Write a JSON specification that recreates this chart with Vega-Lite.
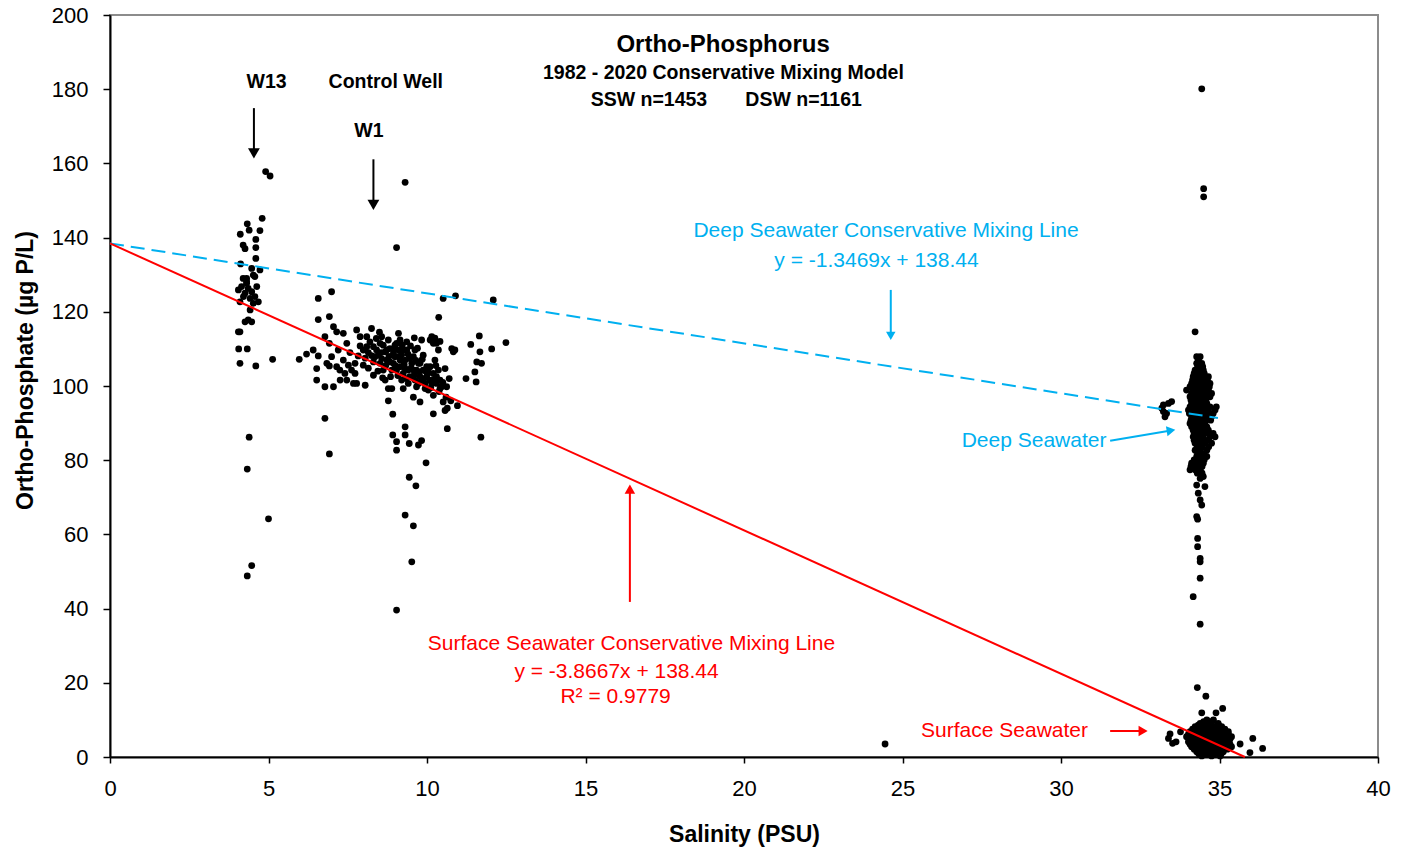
{
  "$schema": "https://vega.github.io/schema/vega-lite/v6.json",
  "width": 1268,
  "height": 742,
  "autosize": {"type": "none"},
  "padding": {"left": 110, "top": 15, "right": 31, "bottom": 95},
  "background": "white",
  "config": {
    "view": {"stroke": "#8c8c8c", "strokeWidth": 2},
    "font": "Liberation Sans",
    "axis": {"grid": false, "labelFlush": false, "labelFont": "Liberation Sans", "titleFont": "Liberation Sans", "labelColor": "black", "titleColor": "black", "domainColor": "black", "tickColor": "black", "domainWidth": 2, "tickWidth": 1.5, "labelFontSize": 22, "titleFontSize": 23, "titleFontWeight": "bold", "labelFontWeight": "normal"}
  },
  "datasets": {
    "points": [
      {"x":4.91,"y":157.8},{"x":5.05,"y":156.6},{"x":4.8,"y":145.2},{"x":4.33,"y":143.7},{"x":4.11,"y":140.9},{"x":4.39,"y":142},{"x":4.73,"y":141.9},{"x":4.6,"y":139.5},{"x":4.2,"y":138},{"x":4.26,"y":137},{"x":4.6,"y":137.3},{"x":4.6,"y":134.4},{"x":4.12,"y":132.9},{"x":4.47,"y":131.7},{"x":4.73,"y":131.3},{"x":4.57,"y":129.5},{"x":4.2,"y":129},{"x":4.31,"y":128.1},{"x":4.42,"y":120.5},{"x":4.36,"y":117.8},{"x":4.26,"y":117.3},{"x":4.47,"y":117.3},{"x":4.05,"y":114.6},{"x":4.1,"y":114.6},{"x":4.06,"y":110},{"x":4.33,"y":110},{"x":4.1,"y":106.1},{"x":4.6,"y":105.4},{"x":5.13,"y":107.2},{"x":4.39,"y":86.2},{"x":4.33,"y":77.6},{"x":5.0,"y":64.2},{"x":4.47,"y":51.6},{"x":4.33,"y":48.8},
      {"x":4.05,"y":125.9},{"x":4.15,"y":126.8},{"x":4.26,"y":125.0},{"x":4.36,"y":126.3},{"x":4.47,"y":125.4},{"x":4.57,"y":124.1},{"x":4.68,"y":122.7},{"x":4.21,"y":124.1},{"x":4.42,"y":123.6},{"x":4.52,"y":122.3},{"x":4.31,"y":127.7},{"x":4.63,"y":126.8},{"x":4.1,"y":122.7},{"x":4.52,"y":129.9},{"x":4.31,"y":129.0},
      {"x":9.31,"y":154.9},{"x":9.04,"y":137.3},{"x":6.99,"y":125.4},{"x":6.57,"y":123.6},{"x":10.51,"y":123.6},{"x":10.9,"y":124.3},{"x":12.09,"y":123.2},{"x":6.57,"y":117.9},{"x":6.92,"y":118.7},{"x":10.37,"y":118.5},{"x":11.65,"y":113.5},{"x":11.38,"y":111.2},{"x":12.49,"y":111.7},{"x":12.04,"y":110},
      {"x":6.78,"y":91.3},{"x":6.92,"y":81.7},{"x":8.92,"y":92.4},{"x":8.78,"y":96},{"x":9.31,"y":89},{"x":8.92,"y":86.8},{"x":9.31,"y":86.8},{"x":9.04,"y":85},{"x":9.04,"y":82.7},{"x":9.44,"y":84.5},{"x":9.73,"y":84.1},{"x":9.83,"y":85.3},{"x":9.97,"y":79.3},{"x":10.64,"y":88.5},{"x":11.7,"y":86.2},{"x":9.44,"y":75.4},{"x":9.65,"y":73.1},{"x":9.31,"y":65.2},{"x":9.57,"y":62.3},{"x":9.52,"y":52.6},{"x":9.04,"y":39.6},
      {"x":5.97,"y":107.2},{"x":6.2,"y":108.6},{"x":6.41,"y":109.7},{"x":6.52,"y":104.7},{"x":6.52,"y":101.6},{"x":6.57,"y":108.1},{"x":6.78,"y":113.3},{"x":6.78,"y":99.8},{"x":6.92,"y":111.5},{"x":6.92,"y":105.4},{"x":7.05,"y":99.8},{"x":7.05,"y":116.0},{"x":7.15,"y":114.6},{"x":7.2,"y":109.7},{"x":7.25,"y":104.3},{"x":7.36,"y":114.2},{"x":7.36,"y":107.0},{"x":7.47,"y":111.5},{"x":7.52,"y":105.6},{"x":7.57,"y":109.0},{"x":7.68,"y":100.7},{"x":7.73,"y":103.4},{"x":7.78,"y":115.1},{"x":7.83,"y":108.1},{"x":7.89,"y":110.8},{"x":7.99,"y":105.6},{"x":8.05,"y":100.2},{"x":8.1,"y":113.3},{"x":8.15,"y":109.0},{"x":8.25,"y":115.5},{"x":8.31,"y":106.5},{"x":8.31,"y":102.9},{"x":8.41,"y":109.7},{"x":8.52,"y":111.5},{"x":8.57,"y":107.4},{"x":8.62,"y":104.3},{"x":8.68,"y":101.6},{"x":8.73,"y":109.7},{"x":8.78,"y":112.4},{"x":8.83,"y":106.5},{"x":8.89,"y":99.3},{"x":8.94,"y":108.8},{"x":8.99,"y":111.0},{"x":9.04,"y":104.3},{"x":9.1,"y":114.2},{"x":9.15,"y":107.0},{"x":9.2,"y":101.6},{"x":9.25,"y":109.7},{"x":9.31,"y":104.7},{"x":9.36,"y":111.9},{"x":9.41,"y":100.7},{"x":9.46,"y":107.4},{"x":9.57,"y":104.3},{"x":9.62,"y":109.7},{"x":9.67,"y":99.8},{"x":9.73,"y":106.1},{"x":9.78,"y":102.5},{"x":9.83,"y":112.4},{"x":9.88,"y":108.3},{"x":9.94,"y":99.3},{"x":9.99,"y":105.2},{"x":10.09,"y":101.6},{"x":10.15,"y":113.3},{"x":10.2,"y":97.5},{"x":10.25,"y":107.0},{"x":10.3,"y":102.5},{"x":10.36,"y":109.7},{"x":10.41,"y":99.3},{"x":10.51,"y":95.7},{"x":10.57,"y":104.7},{"x":10.62,"y":99.8},{"x":10.64,"y":94.0},{"x":10.78,"y":110.1},{"x":10.88,"y":109.7},{"x":10.96,"y":94.7},{"x":10.2,"y":92.5},{"x":10.57,"y":93.4},{"x":9.78,"y":95.7},{"x":9.57,"y":97.0},{"x":9.25,"y":99.3},{"x":8.78,"y":99.3},{"x":7.78,"y":100.7},
      {"x":11.23,"y":102.0},{"x":11.55,"y":101.1},{"x":11.51,"y":103.8},{"x":11.57,"y":106.5},{"x":11.72,"y":106.1},{"x":11.67,"y":109.2},{"x":10.83,"y":109.2},{"x":10.25,"y":112.9},{"x":10.1,"y":112.4},{"x":10.41,"y":112.0},
      {"x":7.99,"y":109.7},{"x":8.1,"y":110.6},{"x":8.2,"y":111.9},{"x":8.31,"y":110.6},{"x":8.36,"y":107.9},{"x":8.47,"y":108.4},{"x":8.52,"y":106.1},{"x":8.62,"y":111.0},{"x":8.68,"y":109.2},{"x":8.73,"y":107.0},{"x":8.83,"y":110.1},{"x":8.89,"y":104.3},{"x":8.94,"y":106.1},{"x":8.99,"y":107.9},{"x":9.04,"y":111.5},{"x":9.1,"y":109.7},{"x":9.15,"y":105.2},{"x":9.2,"y":108.4},{"x":9.25,"y":103.4},{"x":9.31,"y":107.0},{"x":9.36,"y":109.7},{"x":9.41,"y":104.3},{"x":9.46,"y":102.5},{"x":9.52,"y":106.1},{"x":9.57,"y":107.9},{"x":9.62,"y":101.6},{"x":9.67,"y":104.3},{"x":9.73,"y":100.7},{"x":9.78,"y":106.1},{"x":9.83,"y":101.6},{"x":9.88,"y":104.3},{"x":9.94,"y":100.7},{"x":9.99,"y":102.5},{"x":10.04,"y":98.9},{"x":10.1,"y":105.2},{"x":10.15,"y":100.7},{"x":10.2,"y":103.4},{"x":10.3,"y":100.7},{"x":10.36,"y":104.3},{"x":10.41,"y":101.6},{"x":10.46,"y":99.8},{"x":10.2,"y":111.5},{"x":10.3,"y":111.5},{"x":9.15,"y":112.4},{"x":8.57,"y":113.3},{"x":7.89,"y":113.3},{"x":7.73,"y":106.1},{"x":7.62,"y":104.3},{"x":7.41,"y":103.4},{"x":7.15,"y":105.2},{"x":6.99,"y":107.9},{"x":6.84,"y":106.1},{"x":7.26,"y":101.6},{"x":7.47,"y":101.6},
      {"x":8.05,"y":107.5},{"x":8.15,"y":104.8},{"x":8.25,"y":108.2},{"x":8.4,"y":112.8},{"x":8.45,"y":104.0},{"x":8.55,"y":109.0},{"x":8.6,"y":102.2},{"x":8.7,"y":105.5},{"x":8.8,"y":108.0},{"x":8.85,"y":102.5},{"x":8.95,"y":110.0},{"x":9.0,"y":105.5},{"x":9.08,"y":102.8},{"x":9.12,"y":108.0},{"x":9.22,"y":111.0},{"x":9.28,"y":105.8},{"x":9.35,"y":102.0},{"x":9.4,"y":108.6},{"x":9.48,"y":110.8},{"x":9.5,"y":104.9},{"x":9.6,"y":103.0},{"x":9.65,"y":106.9},{"x":9.7,"y":110.2},{"x":9.76,"y":103.8},{"x":9.85,"y":107.2},{"x":9.9,"y":102.0},{"x":9.96,"y":104.0},{"x":10.05,"y":103.6},{"x":10.12,"y":99.5},{"x":10.22,"y":101.8},{"x":10.28,"y":105.5},{"x":10.38,"y":98.5},{"x":10.5,"y":101.0},{"x":10.6,"y":97.0},{"x":10.7,"y":102.0},{"x":10.75,"y":96.0},{"x":8.5,"y":114.5},{"x":9.6,"y":113.0},
      {"x":34.44,"y":180.1},{"x":34.5,"y":153.2},{"x":34.5,"y":151.0},{"x":34.23,"y":114.6},
      {"x":34.28,"y":107.9},{"x":34.39,"y":107.9},{"x":34.28,"y":106.1},{"x":34.44,"y":106.1},{"x":34.23,"y":104.3},{"x":34.39,"y":104.3},{"x":34.49,"y":104.3},
      {"x":34.17,"y":102.5},{"x":34.33,"y":102.5},{"x":34.49,"y":102.5},{"x":34.65,"y":102.5},
      {"x":34.12,"y":100.7},{"x":34.28,"y":100.7},{"x":34.44,"y":100.7},{"x":34.6,"y":100.7},{"x":34.7,"y":100.7},
      {"x":33.96,"y":98.9},{"x":34.17,"y":98.9},{"x":34.33,"y":98.9},{"x":34.49,"y":98.9},{"x":34.65,"y":98.9},
      {"x":34.07,"y":97.1},{"x":34.23,"y":97.1},{"x":34.39,"y":97.1},{"x":34.54,"y":97.1},{"x":34.7,"y":97.1},
      {"x":34.12,"y":95.3},{"x":34.28,"y":95.3},{"x":34.44,"y":95.3},{"x":34.6,"y":95.3},
      {"x":34.02,"y":93.5},{"x":34.17,"y":93.5},{"x":34.33,"y":93.5},{"x":34.49,"y":93.5},{"x":34.65,"y":93.5},{"x":34.86,"y":93.5},
      {"x":34.12,"y":91.7},{"x":34.28,"y":91.7},{"x":34.44,"y":91.7},{"x":34.6,"y":91.7},{"x":34.75,"y":91.7},
      {"x":34.07,"y":89.9},{"x":34.23,"y":89.9},{"x":34.39,"y":89.9},{"x":34.54,"y":89.9},
      {"x":34.17,"y":88.1},{"x":34.33,"y":88.1},{"x":34.49,"y":88.1},{"x":34.65,"y":88.1},
      {"x":34.17,"y":86.3},{"x":34.33,"y":86.3},{"x":34.49,"y":86.3},{"x":34.7,"y":86.3},{"x":34.86,"y":86.3},
      {"x":34.23,"y":84.6},{"x":34.39,"y":84.6},{"x":34.54,"y":84.6},{"x":34.75,"y":84.6},
      {"x":34.23,"y":82.7},{"x":34.39,"y":82.7},{"x":34.6,"y":82.7},
      {"x":34.28,"y":81.0},{"x":34.44,"y":81.0},{"x":34.6,"y":81.0},
      {"x":34.12,"y":79.2},{"x":34.28,"y":79.2},{"x":34.49,"y":79.2},
      {"x":34.07,"y":77.4},{"x":34.23,"y":77.4},{"x":34.39,"y":77.4},
      {"x":34.33,"y":107.0},{"x":34.31,"y":105.2},{"x":34.47,"y":105.2},{"x":34.2,"y":103.4},{"x":34.36,"y":103.4},{"x":34.52,"y":103.4},
      {"x":34.15,"y":101.6},{"x":34.3,"y":101.6},{"x":34.46,"y":101.6},{"x":34.62,"y":101.6},
      {"x":34.07,"y":99.8},{"x":34.2,"y":99.8},{"x":34.36,"y":99.8},{"x":34.52,"y":99.8},{"x":34.68,"y":99.8},
      {"x":34.12,"y":98.0},{"x":34.28,"y":98.0},{"x":34.44,"y":98.0},{"x":34.6,"y":98.0},{"x":34.75,"y":98.0},
      {"x":34.1,"y":96.2},{"x":34.26,"y":96.2},{"x":34.42,"y":96.2},{"x":34.57,"y":96.2},
      {"x":34.07,"y":94.4},{"x":34.2,"y":94.4},{"x":34.36,"y":94.4},{"x":34.52,"y":94.4},{"x":34.7,"y":94.4},{"x":34.9,"y":94.4},
      {"x":34.05,"y":92.6},{"x":34.2,"y":92.6},{"x":34.36,"y":92.6},{"x":34.52,"y":92.6},{"x":34.68,"y":92.6},{"x":34.8,"y":92.6},
      {"x":34.1,"y":90.8},{"x":34.26,"y":90.8},{"x":34.42,"y":90.8},{"x":34.57,"y":90.8},{"x":34.72,"y":90.8},
      {"x":34.12,"y":89.0},{"x":34.28,"y":89.0},{"x":34.44,"y":89.0},{"x":34.6,"y":89.0},
      {"x":34.2,"y":87.2},{"x":34.36,"y":87.2},{"x":34.52,"y":87.2},{"x":34.68,"y":87.2},{"x":34.8,"y":87.2},
      {"x":34.2,"y":85.4},{"x":34.36,"y":85.4},{"x":34.52,"y":85.4},{"x":34.65,"y":85.4},
      {"x":34.3,"y":83.6},{"x":34.46,"y":83.6},{"x":34.66,"y":83.6},
      {"x":34.31,"y":81.8},{"x":34.5,"y":81.8},
      {"x":34.2,"y":80.1},{"x":34.36,"y":80.1},{"x":34.52,"y":80.1},
      {"x":34.1,"y":78.3},{"x":34.3,"y":78.3},{"x":34.45,"y":78.3},
      {"x":34.3,"y":76.5},{"x":34.45,"y":76.5},
      {"x":34.39,"y":75.1},{"x":34.49,"y":75.6},{"x":34.28,"y":73.3},{"x":34.54,"y":72.9},{"x":34.33,"y":71.1},{"x":34.39,"y":69.3},{"x":34.44,"y":67.9},{"x":34.28,"y":64.8},{"x":34.31,"y":64.1},{"x":34.31,"y":58.9},{"x":34.31,"y":56.7},{"x":34.39,"y":53.5},{"x":34.39,"y":52.6},{"x":34.39,"y":48.2},{"x":34.17,"y":43.2},{"x":34.39,"y":35.8},
      {"x":33.23,"y":94.9},{"x":33.39,"y":95.3},{"x":33.49,"y":95.8},{"x":33.23,"y":93.1},{"x":33.28,"y":91.7},{"x":33.18,"y":94.0},{"x":33.33,"y":92.6},
      {"x":34.3,"y":18.7},{"x":34.57,"y":16.4},{"x":34.44,"y":11.9},{"x":34.89,"y":11.9},{"x":35.1,"y":13.1},{"x":33.44,"y":6.2},{"x":33.63,"y":4.1},{"x":33.39,"y":5.0},{"x":33.52,"y":3.7},{"x":33.77,"y":6.8},{"x":35.65,"y":3.5},{"x":36.05,"y":5.0},{"x":36.36,"y":2.3},{"x":35.96,"y":1.2},{"x":24.45,"y":3.5},
      {"x":34.6,"y":9.97},{"x":34.81,"y":9.97},
      {"x":34.39,"y":9.08},{"x":34.7,"y":9.08},{"x":34.96,"y":9.08},
      {"x":34.23,"y":8.18},{"x":34.44,"y":8.18},{"x":34.65,"y":8.18},{"x":34.86,"y":8.18},{"x":35.07,"y":8.18},
      {"x":34.07,"y":6.83},{"x":34.28,"y":6.83},{"x":34.49,"y":6.83},{"x":34.7,"y":6.83},{"x":34.91,"y":6.83},{"x":35.12,"y":6.83},{"x":35.28,"y":6.83},
      {"x":33.96,"y":5.49},{"x":34.17,"y":5.49},{"x":34.39,"y":5.49},{"x":34.6,"y":5.49},{"x":34.81,"y":5.49},{"x":35.02,"y":5.49},{"x":35.23,"y":5.49},{"x":35.38,"y":5.49},
      {"x":34.02,"y":4.14},{"x":34.23,"y":4.14},{"x":34.44,"y":4.14},{"x":34.65,"y":4.14},{"x":34.86,"y":4.14},{"x":35.07,"y":4.14},{"x":35.28,"y":4.14},
      {"x":34.12,"y":2.79},{"x":34.33,"y":2.79},{"x":34.54,"y":2.79},{"x":34.75,"y":2.79},{"x":34.96,"y":2.79},{"x":35.17,"y":2.79},{"x":35.38,"y":2.79},
      {"x":34.28,"y":1.44},{"x":34.49,"y":1.44},{"x":34.7,"y":1.44},{"x":34.91,"y":1.44},{"x":35.12,"y":1.44},
      {"x":34.44,"y":0.3},{"x":34.75,"y":0.3},{"x":35.02,"y":0.3},
      {"x":34.5,"y":9.5},{"x":34.72,"y":9.5},
      {"x":34.33,"y":8.6},{"x":34.55,"y":8.6},{"x":34.76,"y":8.6},{"x":34.97,"y":8.6},
      {"x":34.15,"y":7.5},{"x":34.35,"y":7.5},{"x":34.55,"y":7.5},{"x":34.76,"y":7.5},{"x":34.97,"y":7.5},{"x":35.17,"y":7.5},
      {"x":34.02,"y":6.15},{"x":34.23,"y":6.15},{"x":34.44,"y":6.15},{"x":34.65,"y":6.15},{"x":34.86,"y":6.15},{"x":35.07,"y":6.15},{"x":35.28,"y":6.15},
      {"x":34.07,"y":4.8},{"x":34.28,"y":4.8},{"x":34.49,"y":4.8},{"x":34.7,"y":4.8},{"x":34.91,"y":4.8},{"x":35.12,"y":4.8},{"x":35.33,"y":4.8},
      {"x":34.07,"y":3.45},{"x":34.28,"y":3.45},{"x":34.49,"y":3.45},{"x":34.7,"y":3.45},{"x":34.91,"y":3.45},{"x":35.12,"y":3.45},{"x":35.33,"y":3.45},
      {"x":34.2,"y":2.1},{"x":34.4,"y":2.1},{"x":34.6,"y":2.1},{"x":34.8,"y":2.1},{"x":35.02,"y":2.1},{"x":35.25,"y":2.1},
      {"x":34.35,"y":0.8},{"x":34.6,"y":0.8},{"x":34.85,"y":0.8},{"x":35.05,"y":0.8}
    ]
  },
  "encoding": {
    "x": {"field": "x", "type": "quantitative", "scale": {"domain": [0, 40], "nice": false, "zero": false},
      "axis": {"values": [0,5,10,15,20,25,30,35,40], "title": "Salinity (PSU)", "tickSize": 6, "labelPadding": 15, "titlePadding": 24}},
    "y": {"field": "y", "type": "quantitative", "scale": {"domain": [0, 200], "nice": false, "zero": false},
      "axis": {"values": [0,20,40,60,80,100,120,140,160,180,200], "title": "Ortho-Phosphate (µg P/L)", "tickSize": 7, "labelPadding": 15, "titlePadding": 14, "titleY": 355}}
  },
  "layer": [
    {
      "data": {"name": "points"},
      "mark": {"type": "circle", "size": 46, "color": "black", "opacity": 1}
    },
    {
      "data": {"values": [{"x": 0, "y": 138.44}, {"x": 34.95, "y": 91.37}]},
      "mark": {"type": "line", "color": "#00B0F0", "strokeWidth": 2, "strokeDash": [14, 7]}
    },
    {
      "data": {"values": [{"x": 0, "y": 138.44}, {"x": 35.8, "y": 0}]},
      "mark": {"type": "line", "color": "#FF0000", "strokeWidth": 2}
    },
    {
      "data": {"values": [{"x": 4.54, "y": 174.9, "x2": 4.54, "y2": 162.7}, {"x": 8.31, "y": 161.1, "x2": 8.31, "y2": 148.8}]},
      "mark": {"type": "rule", "color": "black", "strokeWidth": 2},
      "encoding": {"x2": {"field": "x2"}, "y2": {"field": "y2"}}
    },
    {
      "data": {"values": [{"x": 4.54, "y": 162.7}, {"x": 8.31, "y": 148.8}]},
      "mark": {"type": "point", "shape": "triangle-down", "filled": true, "color": "black", "size": 140, "opacity": 1}
    },
    {
      "data": {"values": [{"x": 24.63, "y": 125.9, "x2": 24.63, "y2": 113.5}, {"x": 31.55, "y": 85.25, "x2": 33.47, "y2": 88.0}]},
      "mark": {"type": "rule", "color": "#00B0F0", "strokeWidth": 2},
      "encoding": {"x2": {"field": "x2"}, "y2": {"field": "y2"}}
    },
    {
      "data": {"values": [{"x": 24.63, "y": 113.5}]},
      "mark": {"type": "point", "shape": "triangle-down", "filled": true, "color": "#00B0F0", "size": 90, "opacity": 1}
    },
    {
      "data": {"values": [{"x": 33.47, "y": 88.0}]},
      "mark": {"type": "point", "shape": "triangle-right", "angle": -9, "filled": true, "color": "#00B0F0", "size": 100, "opacity": 1}
    },
    {
      "data": {"values": [{"x": 16.4, "y": 41.8, "x2": 16.4, "y2": 72.2}, {"x": 31.55, "y": 7.0, "x2": 32.59, "y2": 7.0}]},
      "mark": {"type": "rule", "color": "#FF0000", "strokeWidth": 2},
      "encoding": {"x2": {"field": "x2"}, "y2": {"field": "y2"}}
    },
    {
      "data": {"values": [{"x": 16.4, "y": 72.2}]},
      "mark": {"type": "point", "shape": "triangle-up", "filled": true, "color": "#FF0000", "size": 110, "opacity": 1}
    },
    {
      "data": {"values": [{"x": 32.59, "y": 7.0}]},
      "mark": {"type": "point", "shape": "triangle-right", "filled": true, "color": "#FF0000", "size": 110, "opacity": 1}
    },
    {
      "data": {"values": [{"x": 19.34, "y": 191.8, "t": "Ortho-Phosphorus"}]},
      "mark": {"type": "text", "font": "Liberation Sans", "fontSize": 24, "fontWeight": "bold", "color": "black", "baseline": "middle", "align": "center"},
      "encoding": {"text": {"field": "t"}}
    },
    {
      "data": {"values": [
        {"x": 19.35, "y": 184.3, "t": "1982 - 2020 Conservative Mixing Model"},
        {"x": 17.0, "y": 177.2, "t": "SSW n=1453"},
        {"x": 21.88, "y": 177.2, "t": "DSW n=1161"},
        {"x": 4.94, "y": 181.9, "t": "W13"},
        {"x": 8.7, "y": 181.9, "t": "Control  Well"},
        {"x": 8.17, "y": 168.6, "t": "W1"}
      ]},
      "mark": {"type": "text", "font": "Liberation Sans", "fontSize": 19.5, "fontWeight": "bold", "color": "black", "baseline": "middle", "align": "center"},
      "encoding": {"text": {"field": "t"}}
    },
    {
      "data": {"values": [
        {"x": 24.48, "y": 141.8, "t": "Deep Seawater Conservative Mixing Line"},
        {"x": 24.18, "y": 133.7, "t": "y = -1.3469x + 138.44"},
        {"x": 29.15, "y": 85.2, "t": "Deep Seawater"}
      ]},
      "mark": {"type": "text", "font": "Liberation Sans", "fontSize": 21, "color": "#00B0F0", "baseline": "middle", "align": "center"},
      "encoding": {"text": {"field": "t"}}
    },
    {
      "data": {"values": [
        {"x": 16.45, "y": 30.5, "t": "Surface Seawater Conservative Mixing Line"},
        {"x": 15.98, "y": 22.9, "t": "y = -3.8667x + 138.44"},
        {"x": 15.95, "y": 16.2, "t": "R² = 0.9779"},
        {"x": 28.22, "y": 7.0, "t": "Surface Seawater"}
      ]},
      "mark": {"type": "text", "font": "Liberation Sans", "fontSize": 21, "color": "#FF0000", "baseline": "middle", "align": "center"},
      "encoding": {"text": {"field": "t"}}
    }
  ]
}
